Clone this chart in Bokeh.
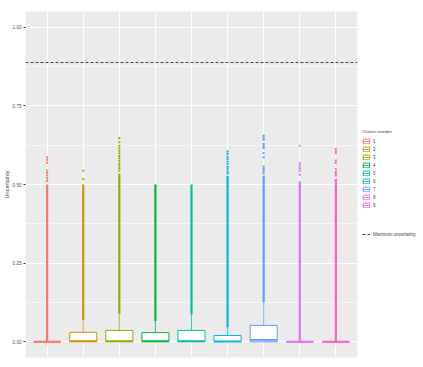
from bokeh.plotting import figure
from bokeh.layouts import row
from bokeh.models import (ColumnDataSource, FactorRange, Range1d, FixedTicker,
                          Legend, LegendItem, PrintfTickFormatter)
from bokeh.embed import file_html
from bokeh.resources import INLINE

# ---- data ----
clusters = ["1", "2", "3", "4", "5", "6", "7", "8", "9"]
colors = ["#F8766D", "#D39200", "#93AA00", "#00BA38", "#00C19F",
          "#00B9E3", "#619CFF", "#DB72FB", "#FF61C3"]
q1 = [0.000, 0.000, 0.000, 0.000, 0.000, 0.000, 0.000, 0.000, 0.000]
median = [0.000, 0.002, 0.002, 0.002, 0.002, 0.001, 0.006, 0.000, 0.000]
q3 = [0.000, 0.030, 0.036, 0.029, 0.036, 0.020, 0.052, 0.000, 0.000]
whisker_hi = [0.000, 0.069, 0.089, 0.066, 0.087, 0.045, 0.126, 0.000, 0.000]
dense_top = [0.500, 0.500, 0.535, 0.500, 0.500, 0.528, 0.528, 0.510, 0.518]
outliers = {
    "1": [0.512, 0.520, 0.528, 0.536, 0.544, 0.569, 0.578, 0.586],
    "2": [0.517, 0.544],
    "3": [0.544, 0.552, 0.560, 0.567, 0.576, 0.584, 0.591, 0.599, 0.607,
          0.615, 0.623, 0.634, 0.647],
    "4": [],
    "5": [],
    "6": [0.535, 0.541, 0.549, 0.556, 0.565, 0.573, 0.581, 0.588, 0.597, 0.605],
    "7": [0.535, 0.543, 0.550, 0.557, 0.586, 0.600, 0.616, 0.622, 0.629,
          0.642, 0.649, 0.655],
    "8": [0.531, 0.544, 0.552, 0.560, 0.567, 0.623],
    "9": [0.528, 0.534, 0.540, 0.549, 0.568, 0.576, 0.600, 0.605, 0.613],
}
max_uncertainty = [0.889]
y_ticks = [0.0, 0.25, 0.5, 0.75, 1.0]
y_minor = [0.125, 0.375, 0.625, 0.875]

FONT = "Liberation Sans"

src = ColumnDataSource(dict(cluster=clusters, color=colors, q1=q1, median=median,
                            q3=q3, whi=whisker_hi, dtop=dense_top))
ox, oy, oc = [], [], []
for c, col in zip(clusters, colors):
    for v in outliers[c]:
        ox.append(c)
        oy.append(v)
        oc.append(col)
osrc = ColumnDataSource(dict(x=ox, y=oy, color=oc))

H = 367
p = figure(width=359, height=H,
           x_range=FactorRange(factors=clusters),
           y_range=Range1d(-0.05, 1.05),
           output_backend="svg", toolbar_location=None,
           min_border_left=20, min_border_top=11, min_border_bottom=10,
           min_border_right=2)
p.x_range.range_padding = 0.2 / 9
p.background_fill_color = "#EBEBEB"
p.border_fill_color = "white"
p.outline_line_color = None

p.xgrid.grid_line_color = "white"
p.xgrid.grid_line_width = 1.1
p.ygrid.grid_line_color = "white"
p.ygrid.grid_line_width = 1.1
p.ygrid.minor_grid_line_color = "white"
p.ygrid.minor_grid_line_width = 0.55

p.xaxis.visible = False
ya = p.yaxis[0]
ya.ticker = FixedTicker(ticks=y_ticks, minor_ticks=y_minor)
ya.formatter = PrintfTickFormatter(format="%.2f")
ya.axis_line_color = None
ya.major_tick_line_color = "#333333"
ya.major_tick_out = 2
ya.major_tick_in = 0
ya.minor_tick_line_color = None
ya.major_label_text_font_size = "4.6px"
ya.major_label_text_color = "#4D4D4D"
ya.major_label_text_font = FONT
ya.major_label_standoff = 0
ya.axis_label = "Uncertainty"
ya.axis_label_text_font_size = "5.5px"
ya.axis_label_text_font_style = "normal"
ya.axis_label_text_font = FONT
ya.axis_label_standoff = 0


def draw(fig, visible=True):
    hs = fig.hspan(y=max_uncertainty, line_color="#333333", line_dash="3 2",
                   line_width=0.9, visible=visible)
    fig.scatter(x="x", y="y", source=osrc, size=2.3, color="color", line_width=0,
                visible=visible)
    fig.segment(x0="cluster", y0="whi", x1="cluster", y1="dtop", source=src,
                line_color="color", line_width=2.2, visible=visible)
    w = fig.segment(x0="cluster", y0="q3", x1="cluster", y1="whi", source=src,
                    line_color="color", line_width=0.8, visible=visible)
    b = fig.vbar(x="cluster", top="q3", bottom="q1", width=0.75, source=src,
                 fill_color="white", line_color="color", line_width=1, visible=visible)
    fig.vbar(x="cluster", top="median", bottom="median", width=0.75, source=src,
             fill_color=None, line_color="color", line_width=1.8, visible=visible)
    return hs, w, b


draw(p)

# legend panel: the same renderers, hidden, used only for the legend keys
lp = figure(width=64, height=H, x_range=FactorRange(factors=clusters),
            y_range=Range1d(-0.05, 1.05), output_backend="svg", toolbar_location=None,
            min_border_left=0, min_border_right=0, min_border_top=0, min_border_bottom=0)
lp.axis.visible = False
lp.grid.visible = False
lp.outline_line_color = None
lp.background_fill_color = "white"
lp.border_fill_color = "white"
dash_r, wr, br = draw(lp, visible=False)

common = dict(label_text_font_size="4.5px", label_text_font=FONT,
              glyph_width=8, glyph_height=6, label_height=8, label_standoff=3,
              spacing=0, padding=3, margin=0, border_line_color=None,
              background_fill_alpha=0)
leg1 = Legend(items=[LegendItem(label=c, renderers=[br, wr], index=i)
                     for i, c in enumerate(clusters)],
              title="Cluster number", location=(3, 148),
              title_text_font_size="4.4px", title_text_font=FONT,
              title_text_font_style="normal", title_standoff=3, **common)
leg2 = Legend(items=[LegendItem(label="Maximum uncertainty", renderers=[dash_r])],
              location=(3, 119), **common)
lp.add_layout(leg1, "center")
lp.add_layout(leg2, "center")

layout = row(p, lp)
open("out.html", "w").write(file_html(layout, INLINE))
